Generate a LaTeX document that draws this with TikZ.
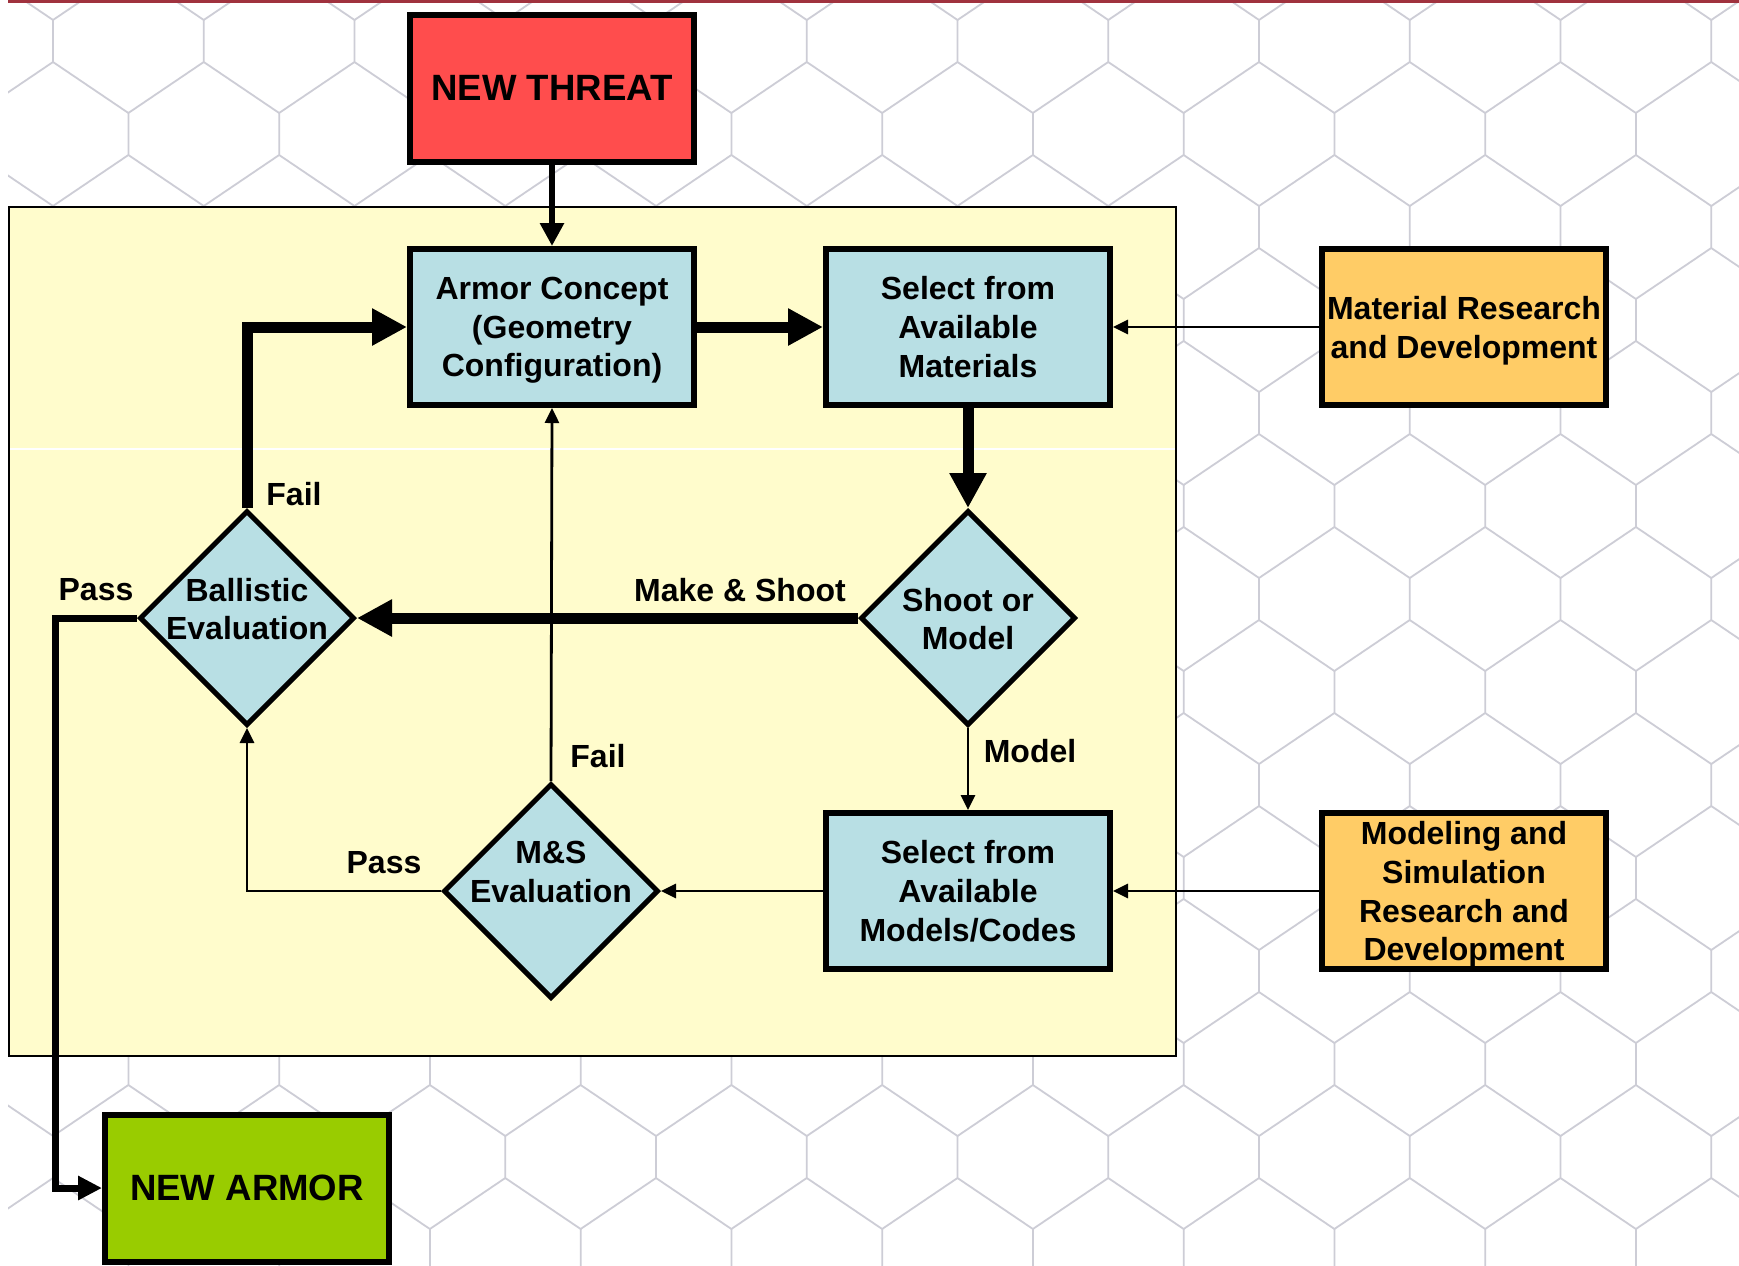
\documentclass[tikz,border=0pt]{standalone}
\usepackage{fontspec}
\setmainfont{Liberation Sans}
\usetikzlibrary{arrows.meta,shapes.geometric}

\definecolor{panel}{RGB}{255,252,204}
\definecolor{boxblue}{RGB}{184,223,228}
\definecolor{threatred}{RGB}{255,77,77}
\definecolor{rdorange}{RGB}{255,204,102}
\definecolor{armorgreen}{RGB}{153,204,0}
\definecolor{hexgray}{RGB}{205,205,214}
\definecolor{topbar}{RGB}{160,50,62}

\begin{document}
\begin{tikzpicture}[x=0.5pt,y=-0.5pt,
  font=\bfseries\fontsize{16}{19.4}\selectfont,
  box/.style={draw=black, line width=3pt, fill=boxblue, minimum width=142pt,
    minimum height=78pt, align=center, inner sep=0pt, text depth=0pt},
  bigbox/.style={box, minimum height=73.5pt, font=\bfseries\fontsize{18.3}{22}\selectfont},
  diam/.style={diamond, shape aspect=1, draw=black, line width=2.5pt, fill=boxblue,
    minimum width=107.5pt, minimum height=107.5pt, inner sep=0pt},
  dtext/.style={align=center, inner sep=0pt},
  lbl/.style={inner sep=0pt},
  hexline/.style={draw=hexgray, line width=0.9pt},
  thickarrow/.style={line width=5.5pt, -{Triangle[length=17.5pt,width=17.5pt]}},
  threatarrow/.style={line width=3pt, -{Triangle[length=11.5pt,width=11.5pt]}},
  passarrow/.style={line width=3.5pt, -{Triangle[length=12pt,width=11.5pt]}},
  thinarrow/.style={line width=1.4pt, -{Triangle[length=7.5pt,width=7pt]}}
]
\useasboundingbox (0,0) rectangle (1739,1265);
\fill[white] (0,0) rectangle (1739,1265);

% background hexagon texture
\begin{scope}
\clip (8,3) rectangle (1739,1265);
\foreach \k in {-1,...,12}{
  \foreach \n in {-1,...,7}{
    \foreach \ox/\oy in {53/41, 128.4/134}{
      \pgfmathsetmacro\cx{\ox+150.75*\k}
      \pgfmathsetmacro\cy{\oy+186*\n}
      \draw[hexline] (\cx-75.4,\cy+72) -- (\cx,\cy+21) -- (\cx+75.4,\cy+72)
                     (\cx,\cy-21) -- (\cx,\cy+21);
    }}}
\end{scope}

% top bar
\fill[topbar] (8,0) rectangle (1739,3);

% yellow panel
\draw[fill=panel, line width=0.75pt] (9,207) rectangle (1176,1056);
\draw[white, line width=0.6pt] (10,449) -- (1175,449);

% nodes
\node[bigbox, fill=threatred] (threat) at (552,88) {NEW THREAT};
\node[box, text depth=-2pt] (armor) at (552,327) {Armor Concept\\(Geometry\\Configuration)};
\node[box] (mat) at (968,327) {Select from\\Available\\Materials};
\node[box, fill=rdorange] (matrd) at (1464,327) {Material Research\\and Development};
\node[diam] (shoot) at (968,618) {};
\node[dtext] (shoott) at (968,619) {Shoot or\\Model};
\node[diam] (ball) at (247,618) {};
\node[dtext] (ballt) at (247,609) {Ballistic\\Evaluation};
\node[diam] (ms) at (551,891) {};
\node[dtext] (mst) at (551,872) {M\&S\\Evaluation};
\node[box] (models) at (968,891) {Select from\\Available\\Models/Codes};
\node[box, fill=rdorange] (msrd) at (1464,891) {Modeling and\\Simulation\\Research and\\Development};
\node[bigbox, fill=armorgreen] (newarmor) at (247,1188) {NEW ARMOR};

\coordinate (failcorner) at (247,327);
\coordinate (mspass) at (247,891);
\coordinate (passtop) at (55,618);
\coordinate (passbot) at (55,1188);

% connectors
\draw[threatarrow] (threat.south) -- (armor.north);
\draw[thickarrow] (armor.east) -- (mat.west);
\draw[thickarrow] (ball.north) -- (failcorner) -- (armor.west);
\draw[thickarrow] (mat.south) -- (shoot.north);
\draw[thickarrow] (shoot.west) -- (ball.east);
\draw[thinarrow] (shoot.south) -- (models.north);
\draw[thinarrow] (models.west) -- (ms.east);
\draw[thinarrow] (ms.north) -- (armor.south);
\draw[thinarrow] (ms.west) -- (mspass) -- (ball.south);
\draw[passarrow] (ball.west) -- (passtop) -- (passbot) -- (newarmor.west);
\draw[thinarrow] (matrd.west) -- (mat.east);
\draw[thinarrow] (msrd.west) -- (models.east);

% labels
\node[lbl] (lfail1) at (294,494) {Fail};
\node[lbl] (lpass1) at (96,590) {Pass};
\node[lbl] (lmake) at (740,590) {Make \& Shoot};
\node[lbl] (lmodel) at (1030,751) {Model};
\node[lbl] (lfail2) at (598,756) {Fail};
\node[lbl] (lpass2) at (384,863) {Pass};
\end{tikzpicture}
\end{document}
